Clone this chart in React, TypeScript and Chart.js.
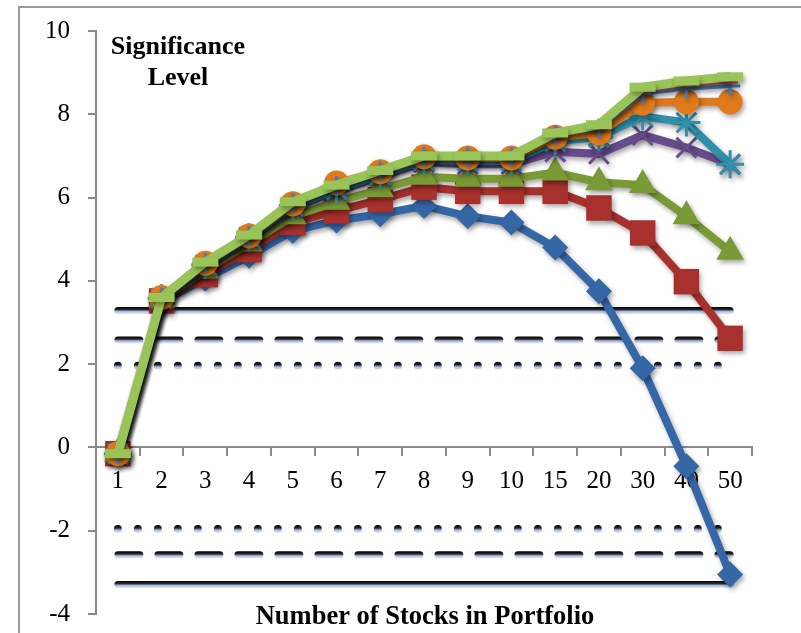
import React, { useEffect, useRef } from 'react';
import { Chart, registerables } from 'chart.js';

Chart.register(...registerables);

const categories = ['1', '2', '3', '4', '5', '6', '7', '8', '9', '10', '15', '20', '30', '40', '50'];

const seriesBlue = [-0.15, 3.5, 4.05, 4.6, 5.2, 5.45, 5.6, 5.8, 5.55, 5.4, 4.8, 3.75, 1.9, -0.45, -3.05];
const seriesRed = [-0.15, 3.52, 4.15, 4.75, 5.4, 5.68, 5.95, 6.25, 6.15, 6.15, 6.15, 5.75, 5.15, 3.98, 2.62];
const seriesGreen = [-0.15, 3.55, 4.25, 4.9, 5.55, 5.9, 6.2, 6.5, 6.45, 6.45, 6.6, 6.37, 6.3, 5.55, 4.7];
const seriesPurple = [-0.15, 3.57, 4.35, 5.0, 5.75, 6.15, 6.5, 6.85, 6.8, 6.8, 7.1, 7.05, 7.5, 7.2, 6.8];
const seriesTeal = [-0.15, 3.58, 4.38, 5.05, 5.8, 6.2, 6.55, 6.9, 6.88, 6.88, 7.35, 7.45, 7.95, 7.8, 6.8];
const seriesOrange = [-0.15, 3.6, 4.42, 5.08, 5.85, 6.35, 6.62, 6.98, 6.95, 6.95, 7.45, 7.55, 8.27, 8.3, 8.3];
const seriesBlue2 = [-0.15, 3.6, 4.43, 5.08, 5.87, 6.28, 6.63, 6.98, 6.97, 6.98, 7.5, 7.65, 8.5, 8.62, 8.68];
const seriesRed2 = [-0.15, 3.6, 4.44, 5.09, 5.88, 6.29, 6.64, 6.99, 6.98, 6.99, 7.52, 7.7, 8.55, 8.7, 8.78];
const seriesGreen2 = [-0.15, 3.6, 4.45, 5.1, 5.9, 6.3, 6.65, 7.0, 7.0, 7.0, 7.55, 7.75, 8.65, 8.8, 8.9];

const critHighPos = [3.29, 3.29, 3.29, 3.29, 3.29, 3.29, 3.29, 3.29, 3.29, 3.29, 3.29, 3.29, 3.29, 3.29, 3.29];
const critMidPos = [2.58, 2.58, 2.58, 2.58, 2.58, 2.58, 2.58, 2.58, 2.58, 2.58, 2.58, 2.58, 2.58, 2.58, 2.58];
const critLowPos = [1.96, 1.96, 1.96, 1.96, 1.96, 1.96, 1.96, 1.96, 1.96, 1.96, 1.96, 1.96, 1.96, 1.96, 1.96];
const critLowNeg = [-1.96, -1.96, -1.96, -1.96, -1.96, -1.96, -1.96, -1.96, -1.96, -1.96, -1.96, -1.96, -1.96, -1.96, -1.96];
const critMidNeg = [-2.58, -2.58, -2.58, -2.58, -2.58, -2.58, -2.58, -2.58, -2.58, -2.58, -2.58, -2.58, -2.58, -2.58, -2.58];
const critHighNeg = [-3.29, -3.29, -3.29, -3.29, -3.29, -3.29, -3.29, -3.29, -3.29, -3.29, -3.29, -3.29, -3.29, -3.29, -3.29];

const yMin = -4;
const yMax = 10;
const yStep = 2;

const titleLines = ['Significance', 'Level'];
const xTitle = 'Number of Stocks in Portfolio';

const FONT = '"Liberation Serif", "Times New Roman", serif';
const AXIS_GREY = '#8a8a8a';

function seriesDs(data: number[], color: string, style: string, radius: number, width: number, order: number, markerBorder = 0) {
  return {
    data,
    borderColor: color,
    backgroundColor: color,
    borderWidth: width,
    pointStyle: style,
    pointRadius: radius,
    pointBackgroundColor: color,
    pointBorderColor: color,
    pointBorderWidth: markerBorder,
    tension: 0,
    order,
  };
}

function thresholdGradient(c: any) {
  const chart = c.chart;
  const ys = chart && chart.scales ? chart.scales.y : null;
  const ds = c.dataset;
  if (!ys || !ds || !chart.chartArea) return '#121212';
  const py = ys.getPixelForValue(ds.data[0]);
  const half = (ds.borderWidth || 6) / 2;
  const g = chart.ctx.createLinearGradient(0, py - half, 0, py + half);
  g.addColorStop(0, '#000000');
  g.addColorStop(0.38, '#2a2a2e');
  g.addColorStop(0.5, '#5d6a86');
  g.addColorStop(0.62, '#a9b9dc');
  g.addColorStop(1, '#e3eaf8');
  return g;
}

function critDs(data: number[], dash: number[], width: number) {
  return {
    data,
    isThreshold: true,
    borderColor: thresholdGradient,
    borderWidth: width,
    borderDash: dash,
    borderCapStyle: 'round',
    pointRadius: 0,
    order: 50,
  };
}

const shadowPlugin = {
  id: 'shadowPlugin',
  beforeDatasetDraw(chart: any, args: any) {
    const ds = chart.data.datasets[args.index];
    const ctx = chart.ctx;
    ctx.save();
    if (!ds.isThreshold) {
      ctx.shadowColor = 'rgba(0,0,0,0.35)';
      ctx.shadowBlur = 5;
      ctx.shadowOffsetX = 2;
      ctx.shadowOffsetY = 3;
    }
  },
  afterDatasetDraw(chart: any) {
    chart.ctx.restore();
  },
};

const textPlugin = {
  id: 'textPlugin',
  afterDraw(chart: any) {
    const ctx = chart.ctx;
    const area = chart.chartArea;
    ctx.save();
    ctx.fillStyle = '#000';
    ctx.font = `bold 26px ${FONT}`;
    ctx.textAlign = 'center';
    ctx.textBaseline = 'middle';
    ctx.fillText(titleLines[0], area.left + 82, area.top + 16);
    ctx.fillText(titleLines[1], area.left + 82, area.top + 47);
    ctx.font = `bold 26.5px ${FONT}`;
    ctx.fillText(xTitle, (area.left + area.right) / 2 + 1, area.bottom + 3);
    ctx.restore();
  },
};

export default function App() {
  const canvasRef = useRef<HTMLCanvasElement | null>(null);

  useEffect(() => {
    if (!canvasRef.current) return;
    const chart = new Chart(canvasRef.current, {
      type: 'line',
      data: {
        labels: categories,
        datasets: [
          critDs(critHighPos, [], 7),
          critDs(critMidPos, [22, 18], 7),
          critDs(critLowPos, [0, 20], 8),
          critDs(critLowNeg, [0, 20], 8),
          critDs(critMidNeg, [22, 18], 7),
          critDs(critHighNeg, [], 7),
          seriesDs(seriesBlue, '#3566a6', 'rectRot', 13, 8, 9),
          seriesDs(seriesRed, '#a8302d', 'rect', 18, 8, 8),
          seriesDs(seriesGreen, '#7a9a35', 'triangle', 16, 8, 7),
          seriesDs(seriesPurple, '#674b8c', 'crossRot', 14, 8, 6, 3),
          seriesDs(seriesTeal, '#3190ab', 'star', 14, 8, 5, 3),
          seriesDs(seriesOrange, '#e07a1c', 'circle', 12.5, 8, 4),
          seriesDs(seriesBlue2, '#4a7ebf', 'cross', 10, 4, 3, 3),
          seriesDs(seriesRed2, '#c0504d', 'line', 8, 4, 2, 4),
          seriesDs(seriesGreen2, '#98c458', 'line', 13, 9, 1, 9),
        ] as any,
      },
      options: {
        responsive: false,
        animation: false,
        events: [],
        layout: { autoPadding: false, padding: { left: 0, top: 31, right: 49, bottom: 19 } },
        plugins: {
          legend: { display: false },
          tooltip: { enabled: false },
          title: { display: false },
        },
        scales: {
          x: {
            type: 'category',
            offset: true,
            position: { y: 0 } as any,
            afterFit: (scale: any) => {
              scale.paddingLeft = 0;
              scale.paddingRight = 0;
              scale.paddingTop = 0;
              scale.paddingBottom = 0;
            },
            grid: {
              offset: true,
              drawOnChartArea: false,
              drawTicks: true,
              tickLength: 8,
              color: AXIS_GREY,
              lineWidth: 2,
            },
            border: { display: true, color: AXIS_GREY, width: 2 },
            ticks: {
              autoSkip: false,
              maxRotation: 0,
              padding: 11,
              color: '#000',
              font: { family: FONT, size: 25 },
            },
          },
          y: {
            type: 'linear',
            min: yMin,
            max: yMax,
            afterFit: (scale: any) => {
              scale.width = 96;
              scale.paddingTop = 0;
              scale.paddingBottom = 0;
            },
            grid: {
              drawOnChartArea: false,
              drawTicks: true,
              tickLength: 8,
              color: AXIS_GREY,
              lineWidth: 2,
            },
            border: { display: true, color: AXIS_GREY, width: 2 },
            ticks: {
              stepSize: yStep,
              padding: 18,
              color: '#000',
              font: { family: FONT, size: 25 },
            },
          },
        },
      } as any,
      plugins: [shadowPlugin, textPlugin],
    });
    return () => chart.destroy();
  }, []);

  return (
    <div style={{ position: 'fixed', left: 0, top: 0, width: 801, height: 633, background: '#fff', overflow: 'hidden' }}>
      <div
        style={{
          position: 'absolute',
          left: 18,
          top: 6,
          width: 801,
          height: 633,
          borderLeft: '2px solid #9a9a9a',
          borderTop: '2px solid #9a9a9a',
        }}
      />
      <canvas ref={canvasRef} width={801} height={633} style={{ position: 'absolute', left: 0, top: 0, display: 'block' }} />
    </div>
  );
}
